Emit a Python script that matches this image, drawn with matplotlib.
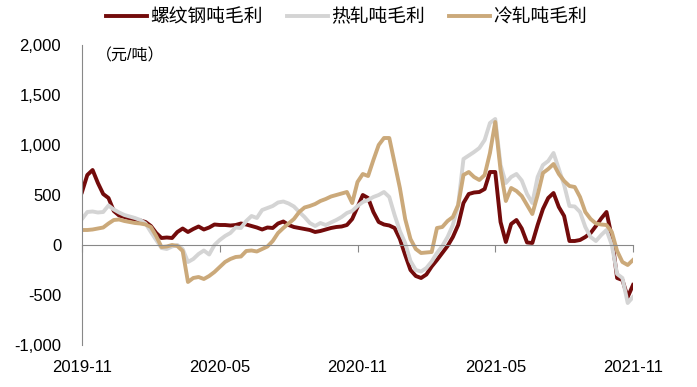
import matplotlib
matplotlib.use("Agg")
import matplotlib.pyplot as plt
import matplotlib.ticker as mticker
import numpy as np

plt.rcParams['font.family'] = ['Liberation Sans', 'Noto Sans CJK SC', 'DejaVu Sans']

# weekly index, 2019-11 .. 2021-11
tick_labels = ["2019-11", "2020-05", "2020-11", "2021-05", "2021-11"]
tick_weeks = [0, 26, 52, 78, 104]

rebar = [530, 700, 750, 620, 510, 470, 340, 295, 280, 265, 255, 245, 230, 190, 120, 70,
         75, 70, 130, 165, 130, 160, 185, 155, 175, 205, 200, 200, 195, 200, 215, 205,
         190, 175, 155, 175, 170, 215, 235, 200, 180, 170, 160, 150, 130, 140, 155, 170,
         180, 185, 200, 260, 380, 500, 470, 330, 230, 205, 195, 170, 60, -100, -250, -310,
         -330, -295, -215, -150, -80, -10, 80, 200, 420, 510, 525, 530, 560, 730, 730, 230,
         30, 210, 250, 165, 25, 20, 200, 360, 470, 520, 380, 290, 40, 40, 50, 80,
         120, 190, 265, 330, 80, -330, -350, -520, -400]

hot = [260, 330, 335, 325, 330, 395, 355, 325, 300, 285, 270, 250, 215, 130, 50, -30,
       -40, -15, 0, -40, -170, -140, -90, -55, -95, 0, 50, 90, 120, 175, 170, 240,
       290, 270, 350, 370, 390, 425, 435, 415, 385, 330, 280, 220, 190, 220, 200, 225,
       250, 280, 320, 340, 390, 430, 450, 480, 500, 530, 480, 300, 140, 20, -160, -250,
       -265, -230, -165, -80, -10, 80, 200, 400, 860, 895, 930, 970, 1050, 1220, 1260, 800,
       620, 680, 710, 645, 510, 420, 680, 800, 840, 920, 760, 600, 390, 385, 330, 180,
       80, 40, 100, 150, 0, -290, -330, -580, -520]

cold = [150, 150, 155, 165, 175, 215, 250, 255, 240, 230, 220, 215, 205, 180, 90, -20,
        -15, 0, -10, -60, -370, -330, -320, -340, -310, -270, -220, -170, -140, -120, -115, -60,
        -55, -65, -40, -15, 40, 120, 170, 215, 260, 330, 375, 390, 410, 440, 460, 485,
        500, 515, 530, 420, 630, 710, 690, 850, 1000, 1070, 1070, 820, 570, 260, 60, -40,
        -80, -75, -70, 170, 180, 240, 280, 400, 700, 730, 680, 650, 700, 920, 1230, 750,
        440, 570, 540, 490, 400, 310, 500, 720, 760, 810, 710, 640, 590, 580, 480, 330,
        260, 215, 205, 200, 130, -60, -170, -200, -150]

series_names = ["螺纹钢吨毛利", "热轧吨毛利", "冷轧吨毛利"]
colors = ["#730B0B", "#D4D4D4", "#CBA97A"]

fig = plt.figure(figsize=(6.97, 3.87), dpi=100)
ax = fig.add_axes([82/697, 42/387, (633-82)/697, 300/387])

x = np.arange(len(rebar))
for vals, name, c in zip([rebar, hot, cold], series_names, colors):
    ax.plot(x, vals, color=c, lw=2.8, label=name, solid_joinstyle='round')

ax.set_xlim(0, 104)
ax.set_ylim(-1000, 2000)
ax.set_yticks(np.arange(-1000, 2001, 500))
ax.yaxis.set_major_formatter(mticker.FuncFormatter(lambda v, p: f"{int(v):,}"))
ax.tick_params(axis='y', length=0, pad=15, labelsize=12)

ax.spines['top'].set_visible(False)
ax.spines['right'].set_visible(False)
ax.spines['left'].set_color('#888888')
ax.spines['bottom'].set_position(('data', 0))
ax.spines['bottom'].set_color('#888888')

ax.set_xticks(tick_weeks)
ax.set_xticklabels(tick_labels)
ax.tick_params(axis='x', direction='out', length=5, color='#888888', pad=78, labelsize=12)

ax.text(0.025, 0.99, "（元/吨）", transform=ax.transAxes, fontsize=11.5,
        ha='left', va='top')

fig.legend(loc='upper center', bbox_to_anchor=(0.497, 1.02), ncol=3, frameon=False,
           fontsize=13.5, handlelength=2.2, columnspacing=1.3, handletextpad=0.15)

fig.savefig("out.png", dpi=100)
